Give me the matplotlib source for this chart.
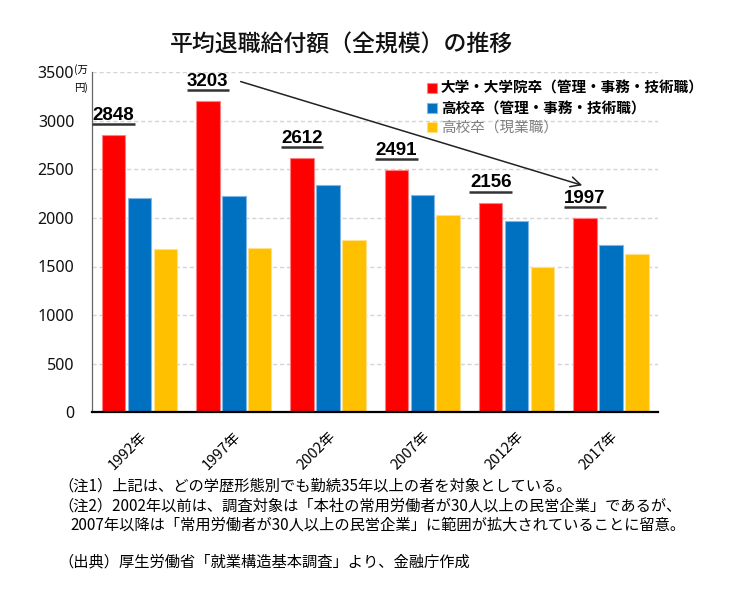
import matplotlib
matplotlib.use('Agg')
import matplotlib.pyplot as plt
import numpy as np

# ---- data ----
years = ['1992年', '1997年', '2002年', '2007年', '2012年', '2017年']
univ = [2848, 3203, 2612, 2491, 2156, 1997]
hs_office = [2200, 2230, 2340, 2240, 1970, 1720]
hs_field = [1680, 1690, 1770, 2030, 1490, 1630]
series_names = ['大学・大学院卒（管理・事務・技術職）',
                '高校卒（管理・事務・技術職）',
                '高校卒（現業職）']
yticks = [0, 500, 1000, 1500, 2000, 2500, 3000, 3500]
title = '平均退職給付額（全規模）の推移'
notes = ['（注1）上記は、どの学歴形態別でも勤続35年以上の者を対象としている。',
         '（注2）2002年以前は、調査対象は「本社の常用労働者が30人以上の民営企業」であるが、',
         '2007年以降は「常用労働者が30人以上の民営企業」に範囲が拡大されていることに留意。',
         '（出典）厚生労働省「就業構造基本調査」より、金融庁作成']

colors = ['#FF0000', '#0070C0', '#FFC000']
edges = ['#FF8080', '#7FB8E6', '#FFE08A']

plt.rcParams['font.family'] = ['Noto Sans CJK JP', 'DejaVu Sans']

W, H = 729, 600
fig = plt.figure(figsize=(W / 100, H / 100), dpi=100)
ax = fig.add_axes([92.3 / W, 1 - 412.3 / H, 565.7 / W, 340.2 / H])

x = np.arange(len(years))
bw = 0.25
offs = [-0.275, 0.0, 0.275]
bars = []
for vals, off, c, e, name in zip([univ, hs_office, hs_field], offs, colors, edges, series_names):
    b = ax.bar(x + off, vals, width=bw, color=c, edgecolor=e, linewidth=0.8,
               label=name, zorder=3)
    bars.append(b)

ax.set_xlim(-0.5, len(years) - 0.5)
ax.set_ylim(0, 3500)
ax.set_yticks(yticks)
ax.set_yticklabels([str(v) for v in yticks], fontsize=11.5, family=['Noto Sans', 'DejaVu Sans'])
ax.tick_params(axis='y', length=0, pad=13, colors='#111111')
ax.set_xticks(x)
ax.set_xticklabels(years, fontsize=10.5, rotation=45, ha='right', va='top',
                   rotation_mode='anchor')
ax.tick_params(axis='x', length=0, pad=12)
ax.grid(axis='y', color='#d4d4d4', linestyle=(0, (3, 2)), linewidth=1, zorder=0)
ax.set_axisbelow(True)
for s in ['top', 'right']:
    ax.spines[s].set_visible(False)
ax.spines['left'].set_color('#666666')
ax.spines['left'].set_linewidth(0.9)
ax.spines['bottom'].set_color('black')
ax.spines['bottom'].set_linewidth(1.6)
ax.spines['bottom'].set_zorder(5)

# value labels above the red bars, underlined
for i, v in enumerate(univ):
    xc = x[i] + offs[0]
    ax.text(xc, v + 205, str(v), ha='center', va='center', fontsize=13.5,
            fontweight='bold', family=['Liberation Sans', 'DejaVu Sans'], color='black', zorder=6)
    ax.plot([xc - 0.225, xc + 0.225], [v + 115, v + 115], color='#333333', lw=1.8,
            solid_capstyle='butt', zorder=6, clip_on=False)

# trend arrow from 1997 label to 2017 label
ax.annotate('', xy=(x[5] + offs[0], univ[5] + 330),
            xytext=(x[1] + offs[0] + 0.32, univ[1] + 208),
            arrowprops=dict(arrowstyle='->', color='#222222', lw=1.1, mutation_scale=18),
            zorder=6, annotation_clip=False)

# unit label
fig.text(74 / W, 1 - 70 / H, '(万', fontsize=7.5, ha='left', va='center')
fig.text(74 / W, 1 - 88 / H, '円)', fontsize=7.5, ha='left', va='center')

# legend
leg = ax.legend(handles=bars, loc='upper left', bbox_to_anchor=(427 / W, 1 - 80 / H),
                bbox_transform=fig.transFigure, frameon=False, fontsize=10.5,
                handlelength=0.7, handleheight=0.7, handletextpad=0.25,
                labelspacing=0.3, borderpad=0, borderaxespad=0)
texts = leg.get_texts()
texts[0].set_fontweight('bold')
texts[1].set_fontweight('bold')
texts[2].set_color('#7f7f7f')

# title
fig.text(341 / W, 1 - 45 / H, title, fontsize=16.5, ha='center', va='center',
         color='#111111', fontweight='medium')

# notes
fig.text(58 / W, 1 - 485.7 / H, notes[0], fontsize=11, ha='left', va='center')
fig.text(58 / W, 1 - 505.7 / H, notes[1], fontsize=11, ha='left', va='center')
fig.text(70.7 / W, 1 - 525 / H, notes[2], fontsize=11, ha='left', va='center')
fig.text(58 / W, 1 - 561.7 / H, notes[3], fontsize=11, ha='left', va='center')

fig.savefig('out.png', dpi=100, facecolor='white')
